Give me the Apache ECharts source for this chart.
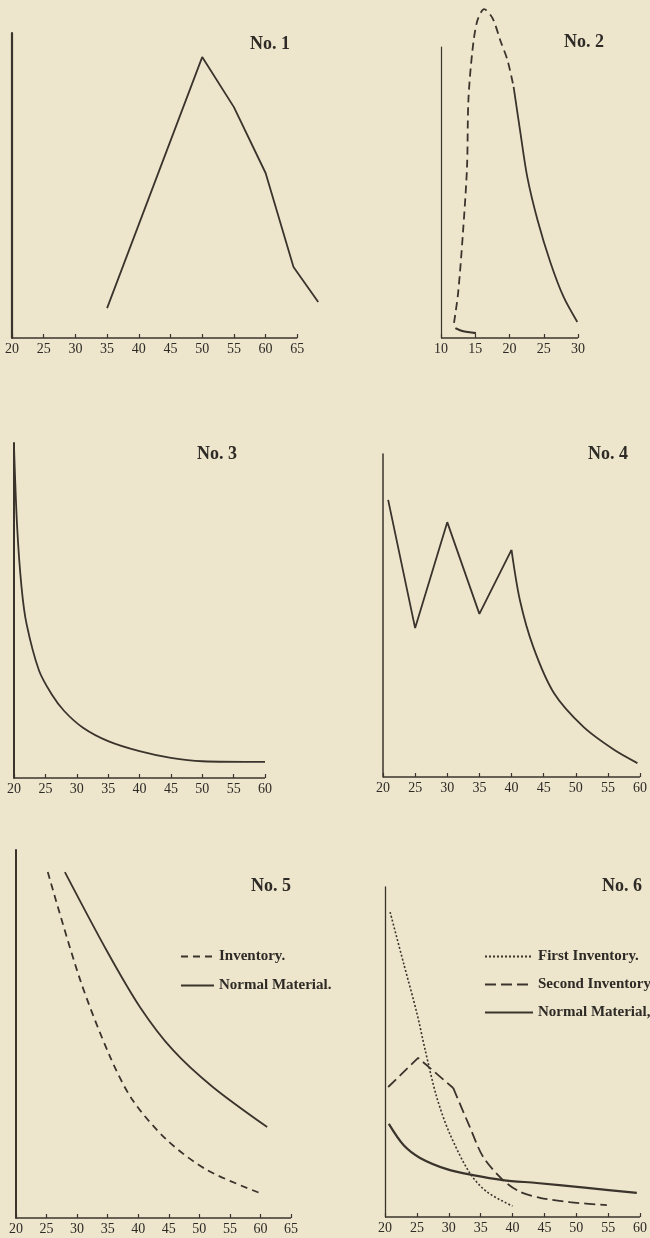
<!DOCTYPE html>
<html>
<head>
<meta charset="utf-8">
<script src="https://cdn.jsdelivr.net/npm/echarts@6/dist/echarts.min.js"></script>
<style>
  html, body { margin: 0; padding: 0; background: #ede6cd; }
  #main { width: 650px; height: 1238px; }
</style>
</head>
<body>
<div id="main"></div>
<script>
// ---- data (x = age, y = relative value, 0..100 = height of the y axis) ----
// No. 1
var p1X = [35, 50, 55, 60, 64.4, 68.3];
var p1Y = [9.8, 92.1, 75.7, 54.1, 23.3, 11.8];
// No. 2  (dashed rise, solid fall, short solid tail at the bottom)
var p2DashX = [11.9, 12.5, 13.2, 13.8, 14.0, 14.6, 15.3, 16.3, 17.5, 18.7, 19.7, 20.6];
var p2DashY = [5.2, 15.5, 36, 58.8, 81.8, 99, 109, 113, 110, 102, 95.5, 86.3];
var p2SolidX = [20.6, 21.6, 22.6, 24.1, 26, 27.9, 29.9];
var p2SolidY = [86.3, 70.4, 55.3, 40.5, 25.8, 14.1, 5.5];
var p2TailX = [12.1, 13.1, 15.1];
var p2TailY = [3.4, 2.4, 1.7];
// No. 3
var p3X = [20, 20.5, 21.2, 22, 24, 26, 28, 31, 35, 40, 45, 50, 60];
var p3Y = [99, 75, 57, 46, 32, 25, 20, 15, 11, 8, 6, 5, 4.8];
// No. 4  (zigzag, then curve)
var p4ZigX = [20.8, 25, 30, 35, 40];
var p4ZigY = [85.8, 46.1, 78.9, 50.5, 70.3];
var p4CurveX = [40, 41.3, 43.4, 46.6, 51.2, 55.9, 59.6];
var p4CurveY = [70.3, 54.8, 40.2, 26, 15.5, 8.5, 4.3];
// No. 5
var p5InvX = [25.2, 30.5, 35.4, 39.1, 44.7, 51.3, 59.9];
var p5InvY = [94, 64.7, 43.8, 32, 21.2, 13, 6.8];
var p5NormX = [28.0, 34.9, 40.3, 45.7, 52.2, 61.1];
var p5NormY = [94, 72.5, 57.3, 45.6, 35.6, 24.7];
// No. 6
var p6FirstX = [20.8, 22.9, 25, 26.3, 28.1, 30.1, 33.3, 36, 40];
var p6FirstY = [92.4, 77, 61.8, 50.6, 36.4, 25.5, 13.3, 7.6, 3.3];
var p6SecondZigX = [20.5, 25.2, 30.7];
var p6SecondZigY = [39.4, 48.2, 39.1];
var p6SecondX = [30.7, 33.3, 35.4, 38.5, 41.2, 44.3, 49, 54.8];
var p6SecondY = [39.1, 27.3, 18.2, 11.2, 7.6, 5.8, 4.5, 3.6];
var p6NormX = [20.6, 22.9, 25.5, 29.7, 33.8, 38.5, 43.8, 51.7, 59.5];
var p6NormY = [28.2, 21.8, 17.9, 14.5, 12.7, 11.2, 10.3, 8.8, 7.3];

var titles = ['No. 1', 'No. 2', 'No. 3', 'No. 4', 'No. 5', 'No. 6'];
var xMin = [20, 10, 20, 20, 20, 20];
var xEnd = [65, 30, 60, 60, 65, 60];   // last tick / end of the drawn axis
var xMax = [70, 30, 60, 60, 65, 60];   // scale extent (No. 1 curve runs past its axis)

function zip(xs, ys) {
  return xs.map(function (x, i) { return [x, ys[i]]; });
}
function ticks(a, b) {
  var t = [];
  for (var v = a; v <= b; v += 5) t.push(v);
  return t;
}

var ink = '#3a342c';
var serif = '"Liberation Serif", "DejaVu Serif", serif';

var grids = [
  { left: 12, top: 33, width: 317, height: 305 },
  { left: 441, top: 47, width: 137, height: 291 },
  { left: 14, top: 443, width: 251, height: 335 },
  { left: 383, top: 454, width: 259, height: 323 },
  { left: 16, top: 850, width: 275, height: 368 },
  { left: 385, top: 887, width: 255, height: 330 }
];
var titlePos = [[245, 30], [559, 28], [192, 440], [583, 440], [246, 872], [597, 872]];
var yLineWidth = [2.2, 1.2, 2, 1.5, 2, 1.3];

var xAxes = [], yAxes = [], titleList = [];
for (var i = 0; i < 6; i++) {
  var tv = ticks(xMin[i], xEnd[i]);
  xAxes.push({
    type: 'value', gridIndex: i, min: xMin[i], max: xMax[i], interval: 5,
    axisLine: { show: false },
    axisTick: { inside: true, length: 4, customValues: tv, lineStyle: { color: ink, width: 1.2 } },
    axisLabel: { color: '#2e2a25', fontFamily: serif, fontSize: 14, margin: 4, customValues: tv },
    splitLine: { show: false }
  });
  yAxes.push({
    type: 'value', gridIndex: i, min: 0, max: 100,
    axisLine: { show: true, lineStyle: { color: ink, width: yLineWidth[i] } },
    axisTick: { show: false },
    axisLabel: { show: false },
    splitLine: { show: false }
  });
  titleList.push({
    text: titles[i], left: titlePos[i][0], top: titlePos[i][1],
    textStyle: { fontFamily: serif, fontSize: 18, fontWeight: 'bold', color: '#2e2a25' }
  });
}

function line(name, idx, xs, ys, dash, smooth, width) {
  return {
    name: name, type: 'line', xAxisIndex: idx, yAxisIndex: idx,
    data: zip(xs, ys), symbol: 'none', smooth: smooth,
    clip: false, silent: true,
    itemStyle: { color: ink },
    lineStyle: { color: ink, width: width || 1.8, type: dash || 'solid' }
  };
}

var dash2 = [8, 5];
var dash5 = [7, 5];
var dot6 = [2, 2];
var dash6 = [11, 5];

var series = [
  line('No1', 0, p1X, p1Y, null, false),
  line('No2a', 1, p2DashX, p2DashY, dash2, 0.3),
  line('No2b', 1, p2SolidX, p2SolidY, null, 0.3),
  line('No2c', 1, p2TailX, p2TailY, null, 0.3, 2.2),
  line('No3', 2, p3X, p3Y, null, 0.3),
  line('No4a', 3, p4ZigX, p4ZigY, null, false),
  line('No4b', 3, p4CurveX, p4CurveY, null, 0.3),
  line('Inventory.', 4, p5InvX, p5InvY, dash5, 0.3),
  line('Normal Material.', 4, p5NormX, p5NormY, null, 0.3),
  line('First Inventory.', 5, p6FirstX, p6FirstY, dot6, 0.3, 1.6),
  line('Second Inventory', 5, p6SecondZigX, p6SecondZigY, dash6, false),
  line('Second Inventory', 5, p6SecondX, p6SecondY, dash6, 0.3),
  line('Normal Material,', 5, p6NormX, p6NormY, null, 0.3, 2.2)
];

// x axis base lines, drawn only from first to last tick
for (var j = 0; j < 6; j++) {
  series.push({
    type: 'line', xAxisIndex: j, yAxisIndex: j, silent: true,
    data: [], symbol: 'none',
    markLine: {
      silent: true, symbol: 'none', label: { show: false },
      lineStyle: { color: ink, width: 1.5, type: 'solid' },
      data: [[{ coord: [xMin[j], 0] }, { coord: [xEnd[j], 0] }]]
    }
  });
}

var legendText = { fontFamily: serif, fontSize: 15, fontWeight: 'bold', color: '#2e2a25' };

var option = {
  backgroundColor: '#ede6cd',
  animation: false,
  title: titleList,
  legend: [
    {
      data: ['Inventory.', 'Normal Material.'],
      orient: 'vertical', left: 175, top: 944,
      itemWidth: 33, itemHeight: 14, itemGap: 14,
      itemStyle: { opacity: 0 },
      selectedMode: false, textStyle: legendText
    },
    {
      data: ['First Inventory.', 'Second Inventory', 'Normal Material,'],
      orient: 'vertical', left: 479, top: 944,
      itemWidth: 48, itemHeight: 14, itemGap: 13,
      itemStyle: { opacity: 0 },
      selectedMode: false, textStyle: legendText
    }
  ],
  grid: grids,
  xAxis: xAxes,
  yAxis: yAxes,
  series: series
};

var myChart = echarts.init(document.getElementById('main'));
myChart.setOption(option);
</script>
</body>
</html>
